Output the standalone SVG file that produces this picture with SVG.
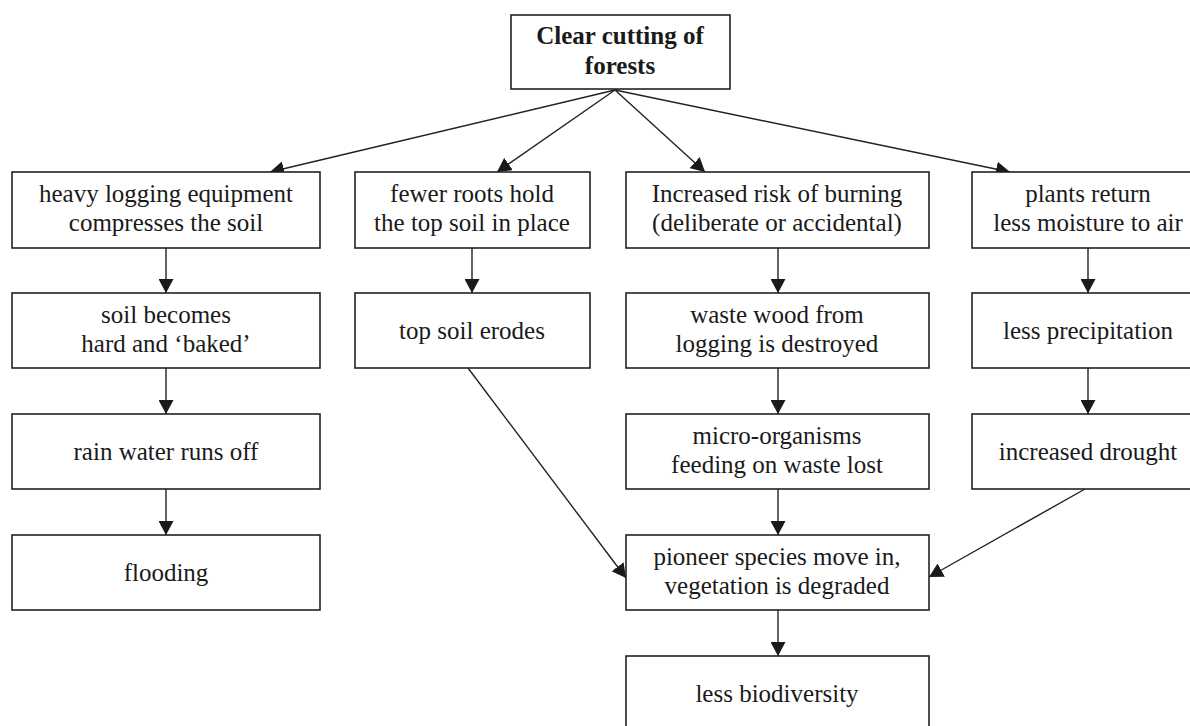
<svg xmlns="http://www.w3.org/2000/svg" width="1190" height="726" viewBox="0 0 1190 726">
<style>
.box{fill:#fff;stroke:#222;stroke-width:1.6}
.t{font-family:"Liberation Serif","Times New Roman",serif;font-size:25px;fill:#1a1a1a;text-anchor:middle}
.b{font-weight:bold}
.c{stroke:#222;stroke-width:1.4;fill:none;marker-end:url(#ah)}
</style>
<defs>
<marker id="ah" markerUnits="userSpaceOnUse" markerWidth="15" markerHeight="15" refX="14" refY="7.5" orient="auto">
<path d="M0,0 L14,7.5 L0,15 z" fill="#1a1a1a"/>
</marker>
</defs>
<rect width="1190" height="726" fill="#fff"/>
<g id="connectors">
<line class="c" x1="615" y1="90" x2="270" y2="172"/>
<line class="c" x1="615" y1="90" x2="497" y2="172"/>
<line class="c" x1="615" y1="90" x2="705" y2="172"/>
<line class="c" x1="615" y1="90" x2="1010" y2="172"/>
<line class="c" x1="166" y1="248" x2="166" y2="293"/>
<line class="c" x1="166" y1="368" x2="166" y2="414"/>
<line class="c" x1="166" y1="489" x2="166" y2="535"/>
<line class="c" x1="472" y1="248" x2="472" y2="293"/>
<line class="c" x1="778" y1="248" x2="778" y2="293"/>
<line class="c" x1="778" y1="368" x2="778" y2="414"/>
<line class="c" x1="778" y1="489" x2="778" y2="535"/>
<line class="c" x1="778" y1="610" x2="778" y2="656"/>
<line class="c" x1="1088" y1="248" x2="1088" y2="293"/>
<line class="c" x1="1088" y1="368" x2="1088" y2="414"/>
<line class="c" x1="468" y1="368" x2="626" y2="578"/>
<line class="c" x1="1085" y1="489" x2="929" y2="577"/>
</g>
<g id="n0"><rect class="box" x="511" y="15" width="219" height="74"/><text class="t b" x="620" y="44">Clear cutting of</text><text class="t b" x="620" y="74">forests</text></g>
<g id="n1"><rect class="box" x="12" y="172" width="308" height="76"/><text class="t" x="166" y="202">heavy logging equipment</text><text class="t" x="166" y="231">compresses the soil</text></g>
<g id="n2"><rect class="box" x="355" y="172" width="235" height="76"/><text class="t" x="472" y="202">fewer roots hold</text><text class="t" x="472" y="231">the top soil in place</text></g>
<g id="n3"><rect class="box" x="626" y="172" width="303" height="76"/><text class="t" x="777" y="202">Increased risk of burning</text><text class="t" x="777" y="231">(deliberate or accidental)</text></g>
<g id="n4"><rect class="box" x="972" y="172" width="232" height="76"/><text class="t" x="1088" y="202">plants return</text><text class="t" x="1088" y="231">less moisture to air</text></g>
<g id="n5"><rect class="box" x="12" y="293" width="308" height="75"/><text class="t" x="166" y="323">soil becomes</text><text class="t" x="166" y="352">hard and ‘baked’</text></g>
<g id="n6"><rect class="box" x="355" y="293" width="235" height="75"/><text class="t" x="472" y="339">top soil erodes</text></g>
<g id="n7"><rect class="box" x="626" y="293" width="303" height="75"/><text class="t" x="777" y="323">waste wood from</text><text class="t" x="777" y="352">logging is destroyed</text></g>
<g id="n8"><rect class="box" x="972" y="293" width="232" height="75"/><text class="t" x="1088" y="339">less precipitation</text></g>
<g id="n9"><rect class="box" x="12" y="414" width="308" height="75"/><text class="t" x="166" y="460">rain water runs off</text></g>
<g id="n10"><rect class="box" x="626" y="414" width="303" height="75"/><text class="t" x="777" y="444">micro-organisms</text><text class="t" x="777" y="473">feeding on waste lost</text></g>
<g id="n11"><rect class="box" x="972" y="414" width="232" height="75"/><text class="t" x="1088" y="460">increased drought</text></g>
<g id="n12"><rect class="box" x="12" y="535" width="308" height="75"/><text class="t" x="166" y="581">flooding</text></g>
<g id="n13"><rect class="box" x="626" y="535" width="303" height="75"/><text class="t" x="777" y="565">pioneer species move in,</text><text class="t" x="777" y="594">vegetation is degraded</text></g>
<g id="n14"><rect class="box" x="626" y="656" width="303" height="76"/><text class="t" x="777" y="702">less biodiversity</text></g>
</svg>
